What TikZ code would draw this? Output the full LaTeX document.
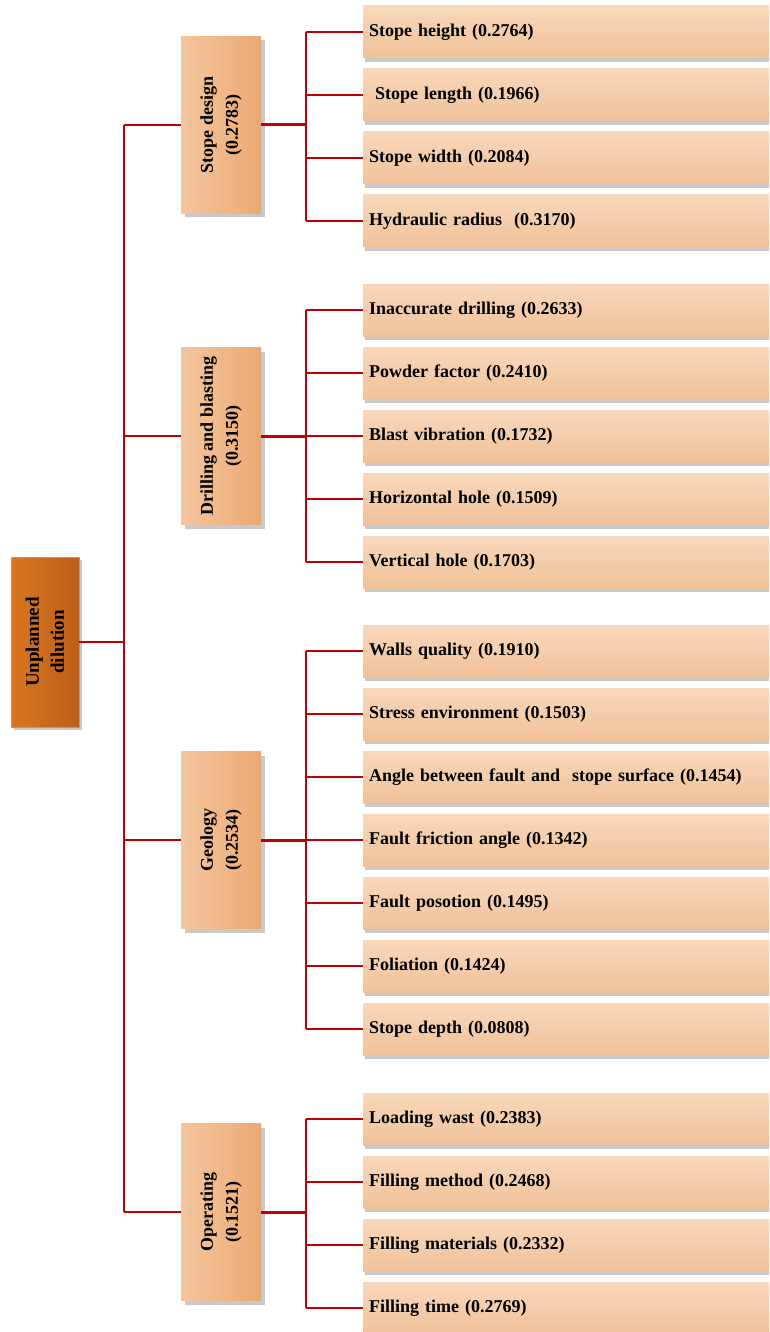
\documentclass[tikz,border=0pt]{standalone}
\usepackage{fontspec}
\setmainfont{Liberation Serif}
\usetikzlibrary{shadows}
\definecolor{rootL}{HTML}{D9761F}
\definecolor{rootR}{HTML}{BD5F1A}
\definecolor{rootB}{HTML}{E98C3C}
\definecolor{catL}{HTML}{F4C6A0}
\definecolor{catR}{HTML}{EBA971}
\definecolor{leafT}{HTML}{F8D8BC}
\definecolor{leafB}{HTML}{F0C199}
\definecolor{shd}{HTML}{C9C9C9}
\definecolor{wire}{HTML}{C00000}
\tikzset{
  rootbox/.style={rectangle, rotate=90, minimum width=170pt, minimum height=68pt,
    left color=rootL, right color=rootR, draw=rootB, line width=0.6pt,
    drop shadow={shadow xshift=3pt, shadow yshift=-3pt, fill=shd, opacity=1},
    align=center, font=\fontsize{19}{25}\selectfont\bfseries, inner sep=0pt},
  catbox/.style={rectangle, rotate=90, minimum width=177pt, minimum height=80pt,
    left color=catL, right color=catR, draw=none,
    drop shadow={shadow xshift=4pt, shadow yshift=-4pt, fill=shd, opacity=1},
    align=center, font=\fontsize{18}{25}\selectfont\bfseries, inner sep=0pt},
  leafbox/.style={rectangle, anchor=west, minimum height=52pt, minimum width=430pt,
    text width=418pt, align=left, inner xsep=6pt,
    top color=leafT, bottom color=leafB, draw=none,
    drop shadow={shadow xshift=1.5pt, shadow yshift=-4pt, fill=shd, opacity=1},
    font=\fontsize{18}{22}\selectfont\bfseries},
  wireline/.style={draw=wire, line width=1.8pt},
  thickwire/.style={draw=wire, line width=3pt}
}
\begin{document}
\begin{tikzpicture}[x=1pt, y=-1pt]
\useasboundingbox (0,0) rectangle (769,1332);
\clip (0,0) rectangle (769,1332);
\fill[white] (0,0) rectangle (769,1332);
\coordinate (tr) at (124,0);
\coordinate (br) at (306,0);
% root
\node[rootbox] (root) at (45,642) {Unplanned\\dilution};
% categories
\node[catbox] (c1) at (221,125) {Stope design\\(0.2783)};
\node[catbox] (c2) at (221,436) {Drilling and blasting\\(0.3150)};
\node[catbox] (c3) at (221,840) {Geology\\(0.2534)};
\node[catbox] (c4) at (221,1212) {Operating\\(0.1521)};
% leaves
\node[leafbox] (l11) at (363,32) {Stope height (0.2764)};
\node[leafbox] (l12) at (363,95) {\ Stope length (0.1966)};
\node[leafbox] (l13) at (363,158) {Stope width (0.2084)};
\node[leafbox] (l14) at (363,221) {Hydraulic radius\ \ (0.3170)};
\node[leafbox] (l21) at (363,310) {Inaccurate drilling (0.2633)};
\node[leafbox] (l22) at (363,373) {Powder factor (0.2410)};
\node[leafbox] (l23) at (363,436) {Blast vibration (0.1732)};
\node[leafbox] (l24) at (363,499) {Horizontal hole (0.1509)};
\node[leafbox] (l25) at (363,562) {Vertical hole (0.1703)};
\node[leafbox] (l31) at (363,651) {Walls quality (0.1910)};
\node[leafbox] (l32) at (363,714) {Stress environment (0.1503)};
\node[leafbox] (l33) at (363,777) {Angle between fault and\ \ stope surface (0.1454)};
\node[leafbox] (l34) at (363,840) {Fault friction angle (0.1342)};
\node[leafbox] (l35) at (363,903) {Fault posotion (0.1495)};
\node[leafbox] (l36) at (363,966) {Foliation (0.1424)};
\node[leafbox] (l37) at (363,1029) {Stope depth (0.0808)};
\node[leafbox] (l41) at (363,1119) {Loading wast (0.2383)};
\node[leafbox] (l42) at (363,1182) {Filling method (0.2468)};
\node[leafbox] (l43) at (363,1245) {Filling materials (0.2332)};
\node[leafbox] (l44) at (363,1308) {Filling time (0.2769)};
% trunk
\draw[wireline] (root.south) -- (root.south -| tr);
\draw[wireline] (c1.north -| tr) -- (c4.north -| tr);
\foreach \c in {c1,c2,c3,c4}{
  \draw[wireline] (\c.north -| tr) -- (\c.north);
  \draw[thickwire] (\c.south) -- (\c.south -| br);
}
% branches
\draw[wireline] (l11.west -| br) -- (l14.west -| br);
\draw[wireline] (l21.west -| br) -- (l25.west -| br);
\draw[wireline] (l31.west -| br) -- (l37.west -| br);
\draw[wireline] (l41.west -| br) -- (l44.west -| br);
\foreach \l in {l11,l12,l13,l14,l21,l22,l23,l24,l25,l31,l32,l33,l34,l35,l36,l37,l41,l42,l43,l44}{
  \draw[wireline] (\l.west -| br) -- (\l.west);
}
\end{tikzpicture}
\end{document}
